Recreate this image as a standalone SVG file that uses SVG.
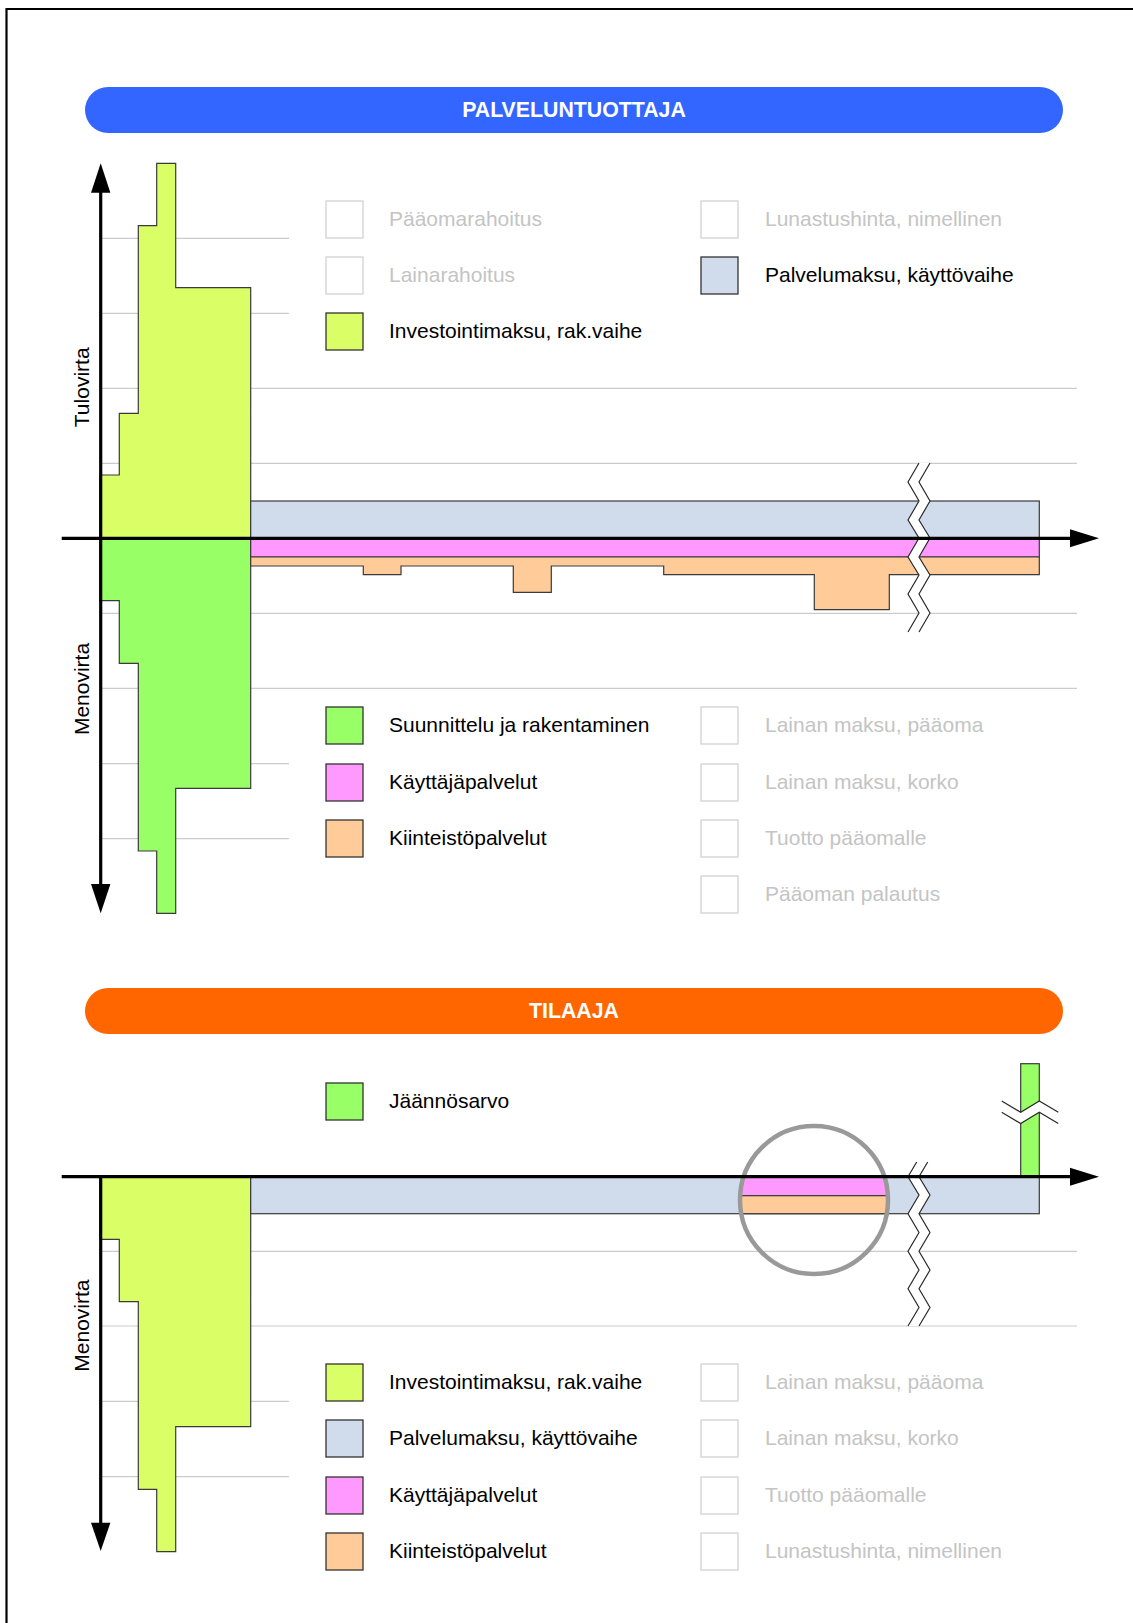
<svg xmlns="http://www.w3.org/2000/svg" width="1133" height="1623" viewBox="0 0 1133 1623">
  <style>
    .grid { stroke: #cccccc; stroke-width: 1.2; fill: none; }
    .shape { stroke: #3a3a3a; stroke-width: 1.2; stroke-linejoin: miter; }
    .axis { stroke: #000; stroke-width: 3.2; fill: none; }
    .head { fill: #000; }
    .brk { fill: #fff; stroke: none; }
    .brkline { fill: none; stroke: #2a2a2a; stroke-width: 1.2; }
    .yg { fill: #DAFF66; }
    .gr { fill: #99FF66; }
    .bl { fill: #D0DCEC; }
    .pk { fill: #FF99FF; }
    .or { fill: #FFCC99; }
    .box-on { stroke: #333; stroke-width: 1.3; }
    .box-off { fill: #fff; stroke: #d2d2d2; stroke-width: 1.3; }
    .lbl { font-family: "Liberation Sans", Arial, sans-serif; font-size: 21px; fill: #000; }
    .lbl-off { font-family: "Liberation Sans", Arial, sans-serif; font-size: 21px; fill: #c4c4c4; }
    .axlbl { font-family: "Liberation Sans", Arial, sans-serif; font-size: 21px; fill: #000; text-anchor: middle; }
    .title { font-family: "Liberation Sans", Arial, sans-serif; font-size: 21.3px; font-weight: bold; fill: #fff; text-anchor: middle; }
  </style>
  <defs>
    <clipPath id="lensClip">
      <circle cx="814" cy="1200" r="74"/>
    </clipPath>
  </defs>

  <rect x="0" y="0" width="1133" height="1623" fill="#fff"/>

  <!-- page frame: top and left rule -->
  <g id="frame">
    <line x1="6.5" y1="9" x2="1133" y2="9" stroke="#000" stroke-width="2.2"/>
    <line x1="6.5" y1="8" x2="6.5" y2="1623" stroke="#000" stroke-width="2.2"/>
  </g>

  <!-- ===== PALVELUNTUOTTAJA ===== -->
  <g id="header-provider">
    <rect x="85" y="87" width="978" height="46" rx="23" ry="23" fill="#3366FF"/>
    <text class="title" x="574" y="116.5">PALVELUNTUOTTAJA</text>
  </g>

  <g id="grid-provider">
    <line class="grid" x1="100" y1="238.3" x2="289" y2="238.3"/>
    <line class="grid" x1="100" y1="313.3" x2="289" y2="313.3"/>
    <line class="grid" x1="100" y1="388.3" x2="1077" y2="388.3"/>
    <line class="grid" x1="100" y1="463.3" x2="1077" y2="463.3"/>
    <line class="grid" x1="100" y1="613.3" x2="1077" y2="613.3"/>
    <line class="grid" x1="100" y1="688.3" x2="1077" y2="688.3"/>
    <line class="grid" x1="100" y1="763.7" x2="289" y2="763.7"/>
    <line class="grid" x1="100" y1="838.7" x2="289" y2="838.7"/>
  </g>

  <g id="flows-provider">
    <!-- income: investment payment during construction -->
    <path id="income-investment" class="shape yg" d="M100,538.3 V475 H119.3 V413.3 H138.3 V225.7 H156.7 V163.3 H175.7 V287.7 H250.7 V538.3 Z"/>
    <!-- expense: design and construction -->
    <path id="expense-construction" class="shape gr" d="M100,538.3 V600.7 H119.3 V663.3 H138.3 V851 H156.7 V913.3 H175.7 V788.3 H250.7 V538.3 Z"/>
    <!-- operating phase bands -->
    <rect id="band-service-fee" class="shape bl" x="250.7" y="501" width="788.6" height="37.3"/>
    <rect id="band-user-services" class="shape pk" x="250.7" y="538.3" width="788.6" height="18.7"/>
    <path id="band-property-services" class="shape or" d="M250.7,557 H1039.3 V574.7 H889.3 V609.7 H814.3 V574.7 H663.7 V566 H551.3 V592.3 H513.3 V566 H401 V574.7 H363.3 V566 H250.7 Z"/>
    <!-- time axis break -->
    <polygon class="brk" points="919,463 908,482 919,501 908,520 919,538 908,557 919,575 908,594 919,613 908,632 919,632 930,613 919,594 930,575 919,557 930,538 919,520 930,501 919,482 930,463"/>
    <polyline class="brkline" points="919,463 908,482 919,501 908,520 919,538 908,557 919,575 908,594 919,613 908,632"/>
    <polyline class="brkline" points="930,463 919,482 930,501 919,520 930,538 919,557 930,575 919,594 930,613 919,632"/>
  </g>

  <g id="axes-provider">
    <line class="axis" x1="61.7" y1="538.3" x2="1072" y2="538.3"/>
    <polygon class="head" points="1070,529.3 1099,538.3 1070,547.3"/>
    <line class="axis" x1="100.7" y1="190" x2="100.7" y2="886"/>
    <polygon class="head" points="91,192.7 100.7,163.3 110.4,192.7"/>
    <polygon class="head" points="91,884 100.7,913.3 110.4,884"/>
    <text class="axlbl" transform="translate(89,387.3) rotate(-90)">Tulovirta</text>
    <text class="axlbl" transform="translate(89,689) rotate(-90)">Menovirta</text>
  </g>

  <g id="legend-provider-income">
    <g id="lg-paaomarahoitus"><rect class="box-off" x="326" y="201" width="37" height="37"/><text class="lbl-off" x="389" y="225.5">Pääomarahoitus</text></g>
    <g id="lg-lainarahoitus"><rect class="box-off" x="326" y="257" width="37" height="37"/><text class="lbl-off" x="389" y="281.5">Lainarahoitus</text></g>
    <g id="lg-investointimaksu"><rect class="box-on yg" x="326" y="313" width="37" height="37"/><text class="lbl" x="389" y="337.5">Investointimaksu, rak.vaihe</text></g>
    <g id="lg-lunastushinta"><rect class="box-off" x="701" y="201" width="37" height="37"/><text class="lbl-off" x="765" y="225.5">Lunastushinta, nimellinen</text></g>
    <g id="lg-palvelumaksu"><rect class="box-on bl" x="701" y="257" width="37" height="37"/><text class="lbl" x="765" y="281.5">Palvelumaksu, käyttövaihe</text></g>
  </g>

  <g id="legend-provider-expense">
    <g id="lg-suunnittelu"><rect class="box-on gr" x="326" y="707" width="37" height="37"/><text class="lbl" x="389" y="731.5">Suunnittelu ja rakentaminen</text></g>
    <g id="lg-kayttajapalvelut"><rect class="box-on pk" x="326" y="764" width="37" height="37"/><text class="lbl" x="389" y="788.5">Käyttäjäpalvelut</text></g>
    <g id="lg-kiinteistopalvelut"><rect class="box-on or" x="326" y="820" width="37" height="37"/><text class="lbl" x="389" y="844.5">Kiinteistöpalvelut</text></g>
    <g id="lg-lainan-paaoma"><rect class="box-off" x="701" y="707" width="37" height="37"/><text class="lbl-off" x="765" y="731.5">Lainan maksu, pääoma</text></g>
    <g id="lg-lainan-korko"><rect class="box-off" x="701" y="764" width="37" height="37"/><text class="lbl-off" x="765" y="788.5">Lainan maksu, korko</text></g>
    <g id="lg-tuotto"><rect class="box-off" x="701" y="820" width="37" height="37"/><text class="lbl-off" x="765" y="844.5">Tuotto pääomalle</text></g>
    <g id="lg-palautus"><rect class="box-off" x="701" y="876" width="37" height="37"/><text class="lbl-off" x="765" y="900.5">Pääoman palautus</text></g>
  </g>

  <!-- ===== TILAAJA ===== -->
  <g id="header-client">
    <rect x="85" y="988" width="978" height="46" rx="23" ry="23" fill="#FF6600"/>
    <text class="title" x="574" y="1017.5">TILAAJA</text>
  </g>

  <g id="grid-client">
    <line class="grid" x1="100" y1="1251.3" x2="1077" y2="1251.3"/>
    <line class="grid" x1="100" y1="1326" x2="1077" y2="1326"/>
    <line class="grid" x1="100" y1="1401.3" x2="289" y2="1401.3"/>
    <line class="grid" x1="100" y1="1476.7" x2="289" y2="1476.7"/>
  </g>

  <g id="flows-client">
    <!-- expense: investment payment during construction -->
    <path id="client-investment" class="shape yg" d="M100,1176.7 V1239.3 H119.3 V1301.7 H138.3 V1489.3 H156.7 V1551.7 H175.7 V1426.7 H250.7 V1176.7 Z"/>
    <!-- operating phase service fee -->
    <rect id="client-service-fee" class="shape bl" x="250.7" y="1176.7" width="788.6" height="37"/>
    <!-- residual value -->
    <rect id="residual-value" class="shape gr" x="1020.7" y="1063.7" width="18.6" height="113"/>
    <polygon class="brk" points="1001.7,1101 1020.7,1112.3 1039.3,1101 1058.3,1112.3 1058.3,1123.6 1039.3,1112.3 1020.7,1123.6 1001.7,1112.3"/>
    <polyline class="brkline" points="1001.7,1101 1020.7,1112.3 1039.3,1101 1058.3,1112.3"/>
    <polyline class="brkline" points="1001.7,1112.3 1020.7,1123.6 1039.3,1112.3 1058.3,1123.6"/>
    <!-- time axis break -->
    <polygon class="brk" points="916.7,1162 908,1176.7 919,1195 908,1213.7 919,1232.5 908,1251.3 919,1270 908,1288.7 919,1307.5 908,1326 919,1326 930,1307.5 919,1288.7 930,1270 919,1251.3 930,1232.5 919,1213.7 930,1195 919,1176.7 927.7,1162"/>
    <polyline class="brkline" points="916.7,1162 908,1176.7 919,1195 908,1213.7 919,1232.5 908,1251.3 919,1270 908,1288.7 919,1307.5 908,1326"/>
    <polyline class="brkline" points="927.7,1162 919,1176.7 930,1195 919,1213.7 930,1232.5 919,1251.3 930,1270 919,1288.7 930,1307.5 919,1326"/>
    <!-- magnified detail: services included in the fee -->
    <g id="fee-detail" clip-path="url(#lensClip)">
      <rect class="shape pk" x="735" y="1176.7" width="160" height="19"/>
      <rect class="shape or" x="735" y="1195.7" width="160" height="18"/>
    </g>
    <circle id="fee-lens" cx="814" cy="1200" r="74" fill="none" stroke="#999999" stroke-width="4.5"/>
  </g>

  <g id="axes-client">
    <line class="axis" x1="61.7" y1="1176.7" x2="1072" y2="1176.7"/>
    <polygon class="head" points="1070,1167.7 1099,1176.7 1070,1185.7"/>
    <line class="axis" x1="100.7" y1="1175.2" x2="100.7" y2="1525"/>
    <polygon class="head" points="91,1522.7 100.7,1551 110.4,1522.7"/>
    <text class="axlbl" transform="translate(89,1325.6) rotate(-90)">Menovirta</text>
  </g>

  <g id="legend-client-residual">
    <g id="lg-jaannosarvo"><rect class="box-on gr" x="326" y="1083" width="37" height="37"/><text class="lbl" x="389" y="1107.5">Jäännösarvo</text></g>
  </g>

  <g id="legend-client">
    <g id="lg-c-investointimaksu"><rect class="box-on yg" x="326" y="1364" width="37" height="37"/><text class="lbl" x="389" y="1388.5">Investointimaksu, rak.vaihe</text></g>
    <g id="lg-c-palvelumaksu"><rect class="box-on bl" x="326" y="1420" width="37" height="37"/><text class="lbl" x="389" y="1444.5">Palvelumaksu, käyttövaihe</text></g>
    <g id="lg-c-kayttajapalvelut"><rect class="box-on pk" x="326" y="1477" width="37" height="37"/><text class="lbl" x="389" y="1501.5">Käyttäjäpalvelut</text></g>
    <g id="lg-c-kiinteistopalvelut"><rect class="box-on or" x="326" y="1533" width="37" height="37"/><text class="lbl" x="389" y="1557.5">Kiinteistöpalvelut</text></g>
    <g id="lg-c-lainan-paaoma"><rect class="box-off" x="701" y="1364" width="37" height="37"/><text class="lbl-off" x="765" y="1388.5">Lainan maksu, pääoma</text></g>
    <g id="lg-c-lainan-korko"><rect class="box-off" x="701" y="1420" width="37" height="37"/><text class="lbl-off" x="765" y="1444.5">Lainan maksu, korko</text></g>
    <g id="lg-c-tuotto"><rect class="box-off" x="701" y="1477" width="37" height="37"/><text class="lbl-off" x="765" y="1501.5">Tuotto pääomalle</text></g>
    <g id="lg-c-lunastushinta"><rect class="box-off" x="701" y="1533" width="37" height="37"/><text class="lbl-off" x="765" y="1557.5">Lunastushinta, nimellinen</text></g>
  </g>
</svg>
